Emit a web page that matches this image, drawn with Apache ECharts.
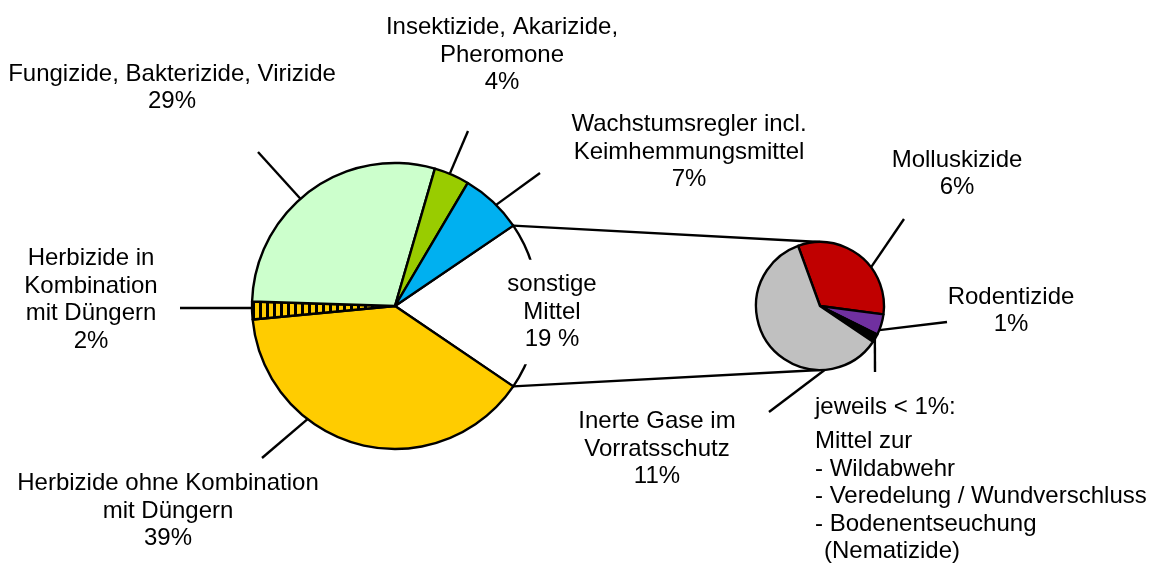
<!DOCTYPE html>
<html>
<head>
<meta charset="utf-8">
<script src="https://cdn.jsdelivr.net/npm/echarts@6/dist/echarts.min.js"></script>
<style>
  html, body { margin: 0; padding: 0; background: #fff; }
  #chart { width: 1155px; height: 565px; }
</style>
</head>
<body>
<div id="chart"></div>
<script>
const MAIN_NAMES = [
  'sonstige\nMittel',
  'Herbizide ohne Kombination\nmit Düngern',
  'Herbizide in\nKombination\nmit Düngern',
  'Fungizide, Bakterizide, Virizide',
  'Insektizide, Akarizide,\nPheromone',
  'Wachstumsregler incl.\nKeimhemmungsmittel'
];
const MAIN_VALUES = [19, 39, 2, 29, 4, 7];
const MAIN_COLORS = ['rgba(0,0,0,0)', '#FFCC00', 'stripes', '#CCFFCC', '#99CC00', '#00B0F0'];

const SUB_NAMES = ['Molluskizide', 'Rodentizide', 'jeweils < 1%:', 'Inerte Gase im\nVorratsschutz'];
const SUB_VALUES = [6.2, 1.0, 0.4, 11.4];
const SUB_COLORS = ['#C00000', '#7030A0', '#000000', '#C0C0C0'];
const SMALL_ITEMS = ['Mittel zur', '- Wildabwehr', '- Veredelung / Wundverschluss', '- Bodenentseuchung', '(Nematizide)'];

const FONT = '"Liberation Sans", Arial, sans-serif';
const MAIN_C = [395, 306], MAIN_R = 143;
const SUB_C = [820, 306], SUB_R = 64;
const LINE_W = 2.4;

// label anchors and leader lines: [angle on rim, end x, end y]
const MAIN_LABEL_POS = [[552, 312], [168, 511], [91, 300], [172, 88], [502, 55], [689, 152]];
const MAIN_LEADERS = [null, [232.3, 262, 458], [180.8, 180, 308], [131.4, 258, 152], [67.5, 468, 131], [45, 540, 173]];
const SUB_LABEL_POS = [[957, 174], [1011, 311], [815, 386], [657, 449]];
const SUB_LEADERS = [[37.2, 904, 219], [-22.1, 947, 322], [-31, 875, 372], [-85.6, 769, 412]];

function stripePattern() {
  const c = document.createElement('canvas');
  c.width = 7; c.height = 4;
  const ctx = c.getContext('2d');
  ctx.fillStyle = '#FFCC00';
  ctx.fillRect(0, 0, 7, 4);
  ctx.fillStyle = '#000';
  ctx.fillRect(0, 0, 3, 4);
  return { image: c, repeat: 'repeat' };
}

function rimPoint(center, radius, deg) {
  const a = deg * Math.PI / 180;
  return [center[0] + radius * Math.cos(a), center[1] - radius * Math.sin(a)];
}

function layoutFor(center, radius, pos, leaders, leftIdx) {
  return function (params) {
    const i = params.dataIndex;
    const out = { x: pos[i][0], y: pos[i][1] };
    if (i === leftIdx) {
      out.align = 'left';
      out.verticalAlign = 'top';
    } else {
      out.align = 'center';
      out.verticalAlign = 'middle';
    }
    const l = leaders[i];
    if (l) {
      const end = [l[1], l[2]];
      out.labelLinePoints = [rimPoint(center, radius, l[0]), end, end];
    }
    return out;
  };
}

const chart = echarts.init(document.getElementById('chart'));
const stripes = stripePattern();
const mainTotal = MAIN_VALUES.reduce((a, b) => a + b, 0);
const halfOther = MAIN_VALUES[0] / mainTotal * 180;

const labelText = { color: '#000', fontSize: 24, fontFamily: FONT, lineHeight: 27.5 };
const lineStyle = { color: '#000', width: LINE_W };

const mainData = MAIN_NAMES.map((name, i) => ({
  name: name,
  value: MAIN_VALUES[i],
  itemStyle: { color: MAIN_COLORS[i] === 'stripes' ? stripes : MAIN_COLORS[i] },
  labelLine: { show: i !== 0 },
  label: i === 0 ? { backgroundColor: '#fff', padding: [11, 4] } : {}
}));

const subData = SUB_NAMES.map((name, i) => ({
  name: name,
  value: SUB_VALUES[i],
  itemStyle: { color: SUB_COLORS[i] }
}));

const p1 = rimPoint(MAIN_C, MAIN_R, halfOther);
const p2 = rimPoint(MAIN_C, MAIN_R, -halfOther);

chart.setOption({
  animation: false,
  backgroundColor: '#fff',
  graphic: [
    { type: 'line', z: 1, shape: { x1: p1[0], y1: p1[1], x2: SUB_C[0], y2: SUB_C[1] - SUB_R }, style: { stroke: '#000', lineWidth: LINE_W } },
    { type: 'line', z: 1, shape: { x1: p2[0], y1: p2[1], x2: SUB_C[0], y2: SUB_C[1] + SUB_R }, style: { stroke: '#000', lineWidth: LINE_W } }
  ],
  series: [
    {
      type: 'pie',
      center: MAIN_C,
      radius: MAIN_R,
      startAngle: halfOther,
      clockwise: true,
      avoidLabelOverlap: false,
      silent: true,
      itemStyle: { borderColor: '#000', borderWidth: LINE_W },
      label: Object.assign({
        show: true,
        position: 'outside',
        formatter: p => p.name + '\n' + p.value + (p.dataIndex === 0 ? ' %' : '%')
      }, labelText),
      labelLine: { show: true, length: 10, length2: 0, lineStyle: lineStyle },
      labelLayout: layoutFor(MAIN_C, MAIN_R, MAIN_LABEL_POS, MAIN_LEADERS, -1),
      data: mainData
    },
    {
      type: 'pie',
      center: SUB_C,
      radius: SUB_R,
      startAngle: 110,
      clockwise: true,
      avoidLabelOverlap: false,
      silent: true,
      itemStyle: { borderColor: '#000', borderWidth: LINE_W },
      label: Object.assign({
        show: true,
        position: 'outside',
        formatter: p => {
          if (p.dataIndex === 2) {
            const rows = SMALL_ITEMS.map((t, k) => k === SMALL_ITEMS.length - 1 ? '{i|' + t + '}' : '{b|' + t + '}');
            return '{h|' + p.name + '}\n' + rows.join('\n');
          }
          return p.name + '\n' + Math.round(p.value) + '%';
        },
        rich: {
          h: { color: '#000', fontSize: 24, fontFamily: FONT, lineHeight: 42 },
          b: { color: '#000', fontSize: 24, fontFamily: FONT, lineHeight: 27.5 },
          i: { color: '#000', fontSize: 24, fontFamily: FONT, lineHeight: 27.5, padding: [0, 0, 0, 9] }
        }
      }, labelText),
      labelLine: { show: true, length: 10, length2: 0, lineStyle: lineStyle },
      labelLayout: layoutFor(SUB_C, SUB_R, SUB_LABEL_POS, SUB_LEADERS, 2),
      data: subData
    }
  ]
});
</script>
</body>
</html>
